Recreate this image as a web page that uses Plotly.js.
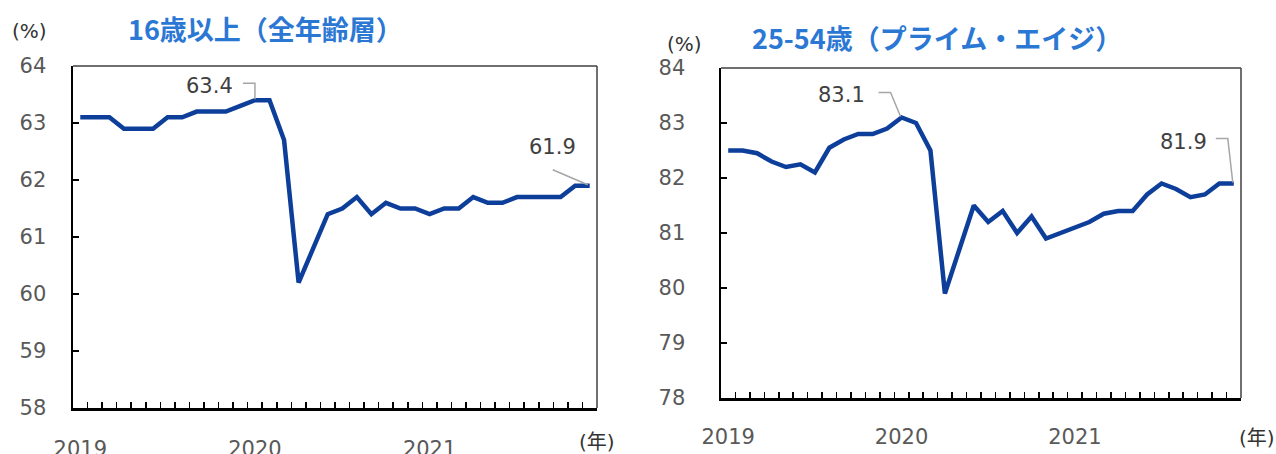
<!DOCTYPE html>
<html><head><meta charset="utf-8">
<script src="https://cdn.plot.ly/plotly-3.0.1.min.js"></script>
<style>html,body{margin:0;padding:0;background:#fff}#chart{width:1276px;height:454px}</style>
</head><body><div id="chart"></div>
<script>
// ---- data ----
const months = ['2019-01','2019-02','2019-03','2019-04','2019-05','2019-06','2019-07','2019-08','2019-09','2019-10','2019-11','2019-12',
                '2020-01','2020-02','2020-03','2020-04','2020-05','2020-06','2020-07','2020-08','2020-09','2020-10','2020-11','2020-12',
                '2021-01','2021-02','2021-03','2021-04','2021-05','2021-06','2021-07','2021-08','2021-09','2021-10','2021-11','2021-12'];
const yearLabels = {'2019-01':'2019','2020-01':'2020','2021-01':'2021'};
const allAges = [63.1,63.1,63.1,62.9,62.9,62.9,63.1,63.1,63.2,63.2,63.2,63.3,
                 63.4,63.4,62.7,60.2,60.8,61.4,61.5,61.7,61.4,61.6,61.5,61.5,
                 61.4,61.5,61.5,61.7,61.6,61.6,61.7,61.7,61.7,61.7,61.9,61.9];
const primeAge = [82.5,82.5,82.45,82.3,82.2,82.25,82.1,82.55,82.7,82.8,82.8,82.9,
                  83.1,83.0,82.5,79.9,80.7,81.5,81.2,81.4,81.0,81.3,80.9,81.0,
                  81.1,81.2,81.35,81.4,81.4,81.7,81.9,81.8,81.65,81.7,81.9,81.9];
const titleAll = '16歳以上（全年齢層）';
const titlePrime = '25-54歳（プライム・エイジ）';
const unitY = '(%)';
const unitX = '(年)';

// ---- styles ----
const W = 1276, H = 454;
const lineColor = '#0D3F9A';
const titleColor = '#2B78D4';
const tickFont = {family: 'DejaVu Sans, Noto Sans CJK JP', size: 21, color: '#595959'};
const labelFont = {family: 'DejaVu Sans, Noto Sans CJK JP', size: 21, color: '#404040'};
const unitFont = {family: 'DejaVu Sans, Noto Sans CJK JP', size: 20, color: '#333333'};
const titleFont = {family: 'Noto Sans CJK JP', size: 27, color: titleColor, weight: 700};
const tickText = months.map(m => yearLabels[m] || '');

function xAxis(domain, anchor, standoff) {
  return {domain: domain, anchor: anchor, type: 'category', range: [-0.5, months.length - 0.5],
    tickmode: 'array', tickvals: months, ticktext: tickText, tickson: 'boundaries', tickangle: 0,
    ticks: 'inside', ticklen: 6, tickwidth: 1.5, tickcolor: '#000',
    showline: true, linecolor: '#000', linewidth: 2.5, showgrid: false, zeroline: false,
    tickfont: tickFont, ticklabelstandoff: standoff, fixedrange: true};
}
function yAxis(domain, anchor, range, standoff) {
  return {domain: domain, anchor: anchor, range: range, dtick: 1, tick0: 0,
    ticks: 'inside', ticklen: 6, tickwidth: 1.5, tickcolor: '#000',
    showline: true, linecolor: '#000', linewidth: 2.5, showgrid: false, zeroline: false,
    tickfont: tickFont, ticklabelstandoff: standoff, fixedrange: true};
}

const traces = [
  {x: months, y: allAges, type: 'scatter', mode: 'lines', xaxis: 'x', yaxis: 'y',
   line: {color: lineColor, width: 4.5}, hoverinfo: 'skip'},
  {x: months, y: primeAge, type: 'scatter', mode: 'lines', xaxis: 'x2', yaxis: 'y2',
   line: {color: lineColor, width: 4.5}, hoverinfo: 'skip'}
];

const iPeakA = allAges.indexOf(Math.max(...allAges));
const iPeakP = primeAge.indexOf(Math.max(...primeAge));
const iLast = months.length - 1;

function valueLabel(xr, yr, i, vals, xshift, yshift, xanchor) {
  return {xref: xr, yref: yr, x: months[i], y: vals[i], text: vals[i].toFixed(1),
    showarrow: false, xanchor: xanchor, yanchor: 'middle', xshift: xshift, yshift: yshift, font: labelFont};
}
function leader(xr, yr, i, vals, path) {
  return {type: 'path', xref: xr, yref: yr, xsizemode: 'pixel', ysizemode: 'pixel',
    xanchor: months[i], yanchor: vals[i], path: path, line: {color: '#A6A6A6', width: 1.5}};
}
function frame(xr, yr) {
  return [
    {type: 'line', xref: xr + ' domain', yref: yr + ' domain', x0: 0, x1: 1, y0: 1, y1: 1, line: {color: '#404040', width: 1.5}},
    {type: 'line', xref: xr + ' domain', yref: yr + ' domain', x0: 1, x1: 1, y0: 0, y1: 1, line: {color: '#404040', width: 1.5}}
  ];
}
function paperText(text, px, py, font, xanchor) {
  return {xref: 'paper', yref: 'paper', x: px / W, y: 1 - py / H, text: text, showarrow: false,
    xanchor: xanchor || 'center', yanchor: 'middle', font: font};
}

const layout = {
  width: W, height: H, margin: {l: 0, r: 0, t: 0, b: 0},
  paper_bgcolor: '#fff', plot_bgcolor: '#fff', showlegend: false, hovermode: false,
  xaxis: xAxis([73 / W, 597 / W], 'y', 20),
  yaxis: yAxis([1 - 408 / H, 1 - 66 / H], 'x', [58, 64], 20),
  xaxis2: xAxis([721 / W, 1241 / W], 'y2', 18),
  yaxis2: yAxis([1 - 398 / H, 1 - 68 / H], 'x2', [78, 84], 29),
  shapes: [
    ...frame('x', 'y'), ...frame('x2', 'y2'),
    leader('x', 'y', iPeakA, allAges, 'M-12,17 L0,17 L0,1'),
    leader('x', 'y', iLast, allAges, 'M-37,16 L-2,1'),
    leader('x2', 'y2', iPeakP, primeAge, 'M-23,25 L-11,25 L-1,1'),
    leader('x2', 'y2', iLast, primeAge, 'M-18,45 L-6,45 L-1,1')
  ],
  annotations: [
    valueLabel('x', 'y', iPeakA, allAges, -20, 14, 'right'),
    valueLabel('x', 'y', iLast, allAges, -37, 39, 'center'),
    valueLabel('x2', 'y2', iPeakP, primeAge, -35, 23, 'right'),
    valueLabel('x2', 'y2', iLast, primeAge, -25, 42, 'right'),
    paperText(titleAll, 265, 28, titleFont),
    paperText(titlePrime, 937, 38, titleFont),
    paperText(unitY, 29, 31, unitFont),
    paperText(unitY, 684, 44, unitFont),
    paperText(unitX, 597, 442, unitFont),
    paperText(unitX, 1257, 438, unitFont)
  ]
};

Plotly.newPlot('chart', traces, layout, {displayModeBar: false, staticPlot: true});
</script>
</body></html>
